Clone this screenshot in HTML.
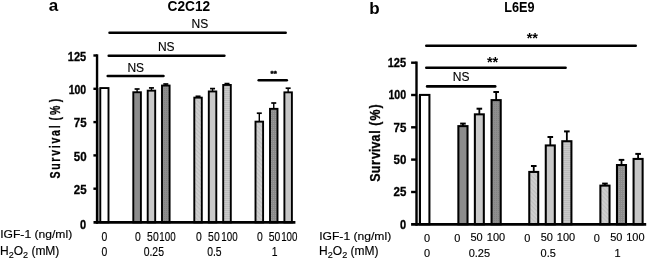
<!DOCTYPE html>
<html><head><meta charset="utf-8"><title>Survival C2C12 / L6E9</title>
<style>
html,body{margin:0;padding:0;background:#fff;}
svg{display:block;filter:blur(0.35px);}
text{font-family:"Liberation Sans",sans-serif;fill:#000;stroke:#000;stroke-width:0.15px;}
.b{font-weight:bold;stroke:#000;stroke-width:0.3px;}
.t{font-weight:bold;stroke-width:0;}
</style></head><body>
<svg width="648" height="259" viewBox="0 0 648 259">
<defs>
<pattern id="pd" width="2" height="2" patternUnits="userSpaceOnUse"><rect width="2" height="2" fill="#8e8e8e"/><rect width="1" height="1" fill="#828282"/></pattern>
<pattern id="ph" width="2" height="2" patternUnits="userSpaceOnUse"><rect width="2" height="2" fill="#cacaca"/><rect width="2" height="1" fill="#bcbcbc"/></pattern>
<pattern id="pl" width="2" height="2" patternUnits="userSpaceOnUse"><rect width="2" height="2" fill="#c8c8c8"/><rect width="1" height="1" fill="#bcbcbc"/></pattern>
<pattern id="pg" width="3" height="3" patternUnits="userSpaceOnUse" patternTransform="rotate(45)"><rect width="3" height="3" fill="#cfcfcf"/><rect width="3" height="1.2" fill="#c0c0c0"/></pattern>
<pattern id="pc" width="2" height="2" patternUnits="userSpaceOnUse"><rect width="2" height="2" fill="#9c9c9c"/><rect width="2" height="1" fill="#8b8b8b"/><rect width="1" height="2" fill="#8b8b8b"/></pattern>
</defs>
<rect width="648" height="259" fill="#fff"/>

<text x="48.7" y="10.5" font-size="17" class="t" text-anchor="start">a</text>
<text x="167.6" y="10.8" font-size="13.8" class="t" text-anchor="start" textLength="42.6" lengthAdjust="spacingAndGlyphs">C2C12</text>
<line x1="109.5" y1="32.65" x2="285.7" y2="32.65" stroke="#000" stroke-width="2.5" stroke-linecap="round"/>
<line x1="108.7" y1="55.7" x2="224.4" y2="55.7" stroke="#000" stroke-width="2.5" stroke-linecap="round"/>
<line x1="107.7" y1="76.1" x2="163.5" y2="76.1" stroke="#000" stroke-width="2.5" stroke-linecap="round"/>
<line x1="258.7" y1="80.3" x2="286.8" y2="80.3" stroke="#000" stroke-width="2.5" stroke-linecap="round"/>
<text x="199.9" y="28.4" font-size="12" text-anchor="middle">NS</text>
<text x="166.3" y="50.8" font-size="12" text-anchor="middle">NS</text>
<text x="135.8" y="72.4" font-size="12" text-anchor="middle">NS</text>
<text x="273.7" y="75.5" font-size="8" class="b" text-anchor="middle" style="stroke-width:0.45px">**</text>
<rect x="98.0" y="88" width="1.6" height="134" fill="#a8a8a8"/>
<rect x="100.30" y="88.05" width="8.20" height="134.35" fill="#fff" stroke="#000" stroke-width="1.9"/>
<line x1="137.1" y1="89.0" x2="137.1" y2="92.3" stroke="#000" stroke-width="1.4" stroke-linecap="butt"/>
<line x1="134.6" y1="89.0" x2="139.6" y2="89.0" stroke="#000" stroke-width="1.7" stroke-linecap="butt"/>
<rect x="133.30" y="92.25" width="7.60" height="130.15" fill="#8c8c8c" stroke="#000" stroke-width="1.9"/>
<line x1="151.45" y1="87.9" x2="151.45" y2="90.69999999999999" stroke="#000" stroke-width="1.4" stroke-linecap="butt"/>
<line x1="148.95" y1="87.9" x2="153.95" y2="87.9" stroke="#000" stroke-width="1.7" stroke-linecap="butt"/>
<rect x="147.70" y="90.65" width="7.50" height="131.75" fill="#c9c9c9" stroke="#000" stroke-width="1.9"/>
<line x1="165.8" y1="84.0" x2="165.8" y2="85.6" stroke="#000" stroke-width="1.4" stroke-linecap="butt"/>
<line x1="163.3" y1="84.0" x2="168.3" y2="84.0" stroke="#000" stroke-width="1.7" stroke-linecap="butt"/>
<rect x="162.00" y="85.55" width="7.60" height="136.85" fill="url(#pd)" stroke="#000" stroke-width="1.9"/>
<line x1="198.05" y1="96.3" x2="198.05" y2="97.69999999999999" stroke="#000" stroke-width="1.4" stroke-linecap="butt"/>
<line x1="195.55" y1="96.3" x2="200.55" y2="96.3" stroke="#000" stroke-width="1.7" stroke-linecap="butt"/>
<rect x="194.30" y="97.65" width="7.50" height="124.75" fill="url(#pg)" stroke="#000" stroke-width="1.9"/>
<line x1="212.55" y1="88.6" x2="212.55" y2="91.5" stroke="#000" stroke-width="1.4" stroke-linecap="butt"/>
<line x1="210.05" y1="88.6" x2="215.05" y2="88.6" stroke="#000" stroke-width="1.7" stroke-linecap="butt"/>
<rect x="208.80" y="91.45" width="7.50" height="130.95" fill="#c9c9c9" stroke="#000" stroke-width="1.9"/>
<line x1="227.0" y1="83.6" x2="227.0" y2="85.0" stroke="#000" stroke-width="1.4" stroke-linecap="butt"/>
<line x1="224.5" y1="83.6" x2="229.5" y2="83.6" stroke="#000" stroke-width="1.7" stroke-linecap="butt"/>
<rect x="223.20" y="84.95" width="7.60" height="137.45" fill="url(#ph)" stroke="#000" stroke-width="1.9"/>
<line x1="259.3" y1="113.2" x2="259.3" y2="121.69999999999999" stroke="#000" stroke-width="1.4" stroke-linecap="butt"/>
<line x1="256.8" y1="113.2" x2="261.8" y2="113.2" stroke="#000" stroke-width="1.7" stroke-linecap="butt"/>
<rect x="255.50" y="121.65" width="7.60" height="100.75" fill="url(#pg)" stroke="#000" stroke-width="1.9"/>
<line x1="273.75" y1="103.0" x2="273.75" y2="108.89999999999999" stroke="#000" stroke-width="1.4" stroke-linecap="butt"/>
<line x1="271.25" y1="103.0" x2="276.25" y2="103.0" stroke="#000" stroke-width="1.7" stroke-linecap="butt"/>
<rect x="270.00" y="108.85" width="7.50" height="113.55" fill="url(#pc)" stroke="#000" stroke-width="1.9"/>
<line x1="288.15" y1="88.2" x2="288.15" y2="92.39999999999999" stroke="#000" stroke-width="1.4" stroke-linecap="butt"/>
<line x1="285.65" y1="88.2" x2="290.65" y2="88.2" stroke="#000" stroke-width="1.7" stroke-linecap="butt"/>
<rect x="284.40" y="92.35" width="7.50" height="130.05" fill="#c6c6c6" stroke="#000" stroke-width="1.9"/>
<line x1="97.05" y1="54.3" x2="97.05" y2="223.8" stroke="#000" stroke-width="2.4" stroke-linecap="butt"/>
<line x1="93.5" y1="222.4" x2="295.4" y2="222.4" stroke="#000" stroke-width="2.6" stroke-linecap="butt"/>
<line x1="93.4" y1="55.5" x2="97" y2="55.5" stroke="#000" stroke-width="2.4" stroke-linecap="butt"/>
<line x1="93.4" y1="88.8" x2="97" y2="88.8" stroke="#000" stroke-width="2.4" stroke-linecap="butt"/>
<line x1="93.4" y1="122.1" x2="97" y2="122.1" stroke="#000" stroke-width="2.4" stroke-linecap="butt"/>
<line x1="93.4" y1="155.4" x2="97" y2="155.4" stroke="#000" stroke-width="2.4" stroke-linecap="butt"/>
<line x1="93.4" y1="188.7" x2="97" y2="188.7" stroke="#000" stroke-width="2.4" stroke-linecap="butt"/>
<text x="86.2" y="60.699999999999996" font-size="12" class="b" text-anchor="end" textLength="18.36" lengthAdjust="spacingAndGlyphs">125</text>
<text x="86.2" y="93.6" font-size="12" class="b" text-anchor="end" textLength="17.5" lengthAdjust="spacingAndGlyphs">100</text>
<text x="86.6" y="127.2" font-size="12" class="b" text-anchor="end" textLength="12.8" lengthAdjust="spacingAndGlyphs">75</text>
<text x="86.6" y="160.9" font-size="12" class="b" text-anchor="end" textLength="12.8" lengthAdjust="spacingAndGlyphs">50</text>
<text x="86.6" y="194.3" font-size="12" class="b" text-anchor="end" textLength="12.8" lengthAdjust="spacingAndGlyphs">25</text>
<text x="86.2" y="228.8" font-size="12" class="b" text-anchor="end" textLength="6.12" lengthAdjust="spacingAndGlyphs">0</text>
<text class="b" font-size="14" letter-spacing="2.35" transform="translate(60.0,178.6) rotate(-90) scale(0.75,1)" x="0" y="0" dx="0 0 0 0 0 0 0 0 0 -2.0 0.4 2.1">Survival (%)</text>
<text x="104.5" y="240.5" font-size="12" text-anchor="middle" textLength="5.78" lengthAdjust="spacingAndGlyphs">0</text>
<text x="137.9" y="240.5" font-size="12" text-anchor="middle" textLength="5.78" lengthAdjust="spacingAndGlyphs">0</text>
<text x="152.9" y="240.5" font-size="12" text-anchor="middle" textLength="11.57" lengthAdjust="spacingAndGlyphs">50</text>
<text x="167.45000000000002" y="240.5" font-size="12" text-anchor="middle" textLength="16.3" lengthAdjust="spacingAndGlyphs">100</text>
<text x="199.0" y="240.5" font-size="12" text-anchor="middle" textLength="5.78" lengthAdjust="spacingAndGlyphs">0</text>
<text x="213.9" y="240.5" font-size="12" text-anchor="middle" textLength="11.57" lengthAdjust="spacingAndGlyphs">50</text>
<text x="229.45000000000002" y="240.5" font-size="12" text-anchor="middle" textLength="16.3" lengthAdjust="spacingAndGlyphs">100</text>
<text x="259.8" y="240.5" font-size="12" text-anchor="middle" textLength="5.78" lengthAdjust="spacingAndGlyphs">0</text>
<text x="274.5" y="240.5" font-size="12" text-anchor="middle" textLength="11.57" lengthAdjust="spacingAndGlyphs">50</text>
<text x="289.35" y="240.5" font-size="12" text-anchor="middle" textLength="16.3" lengthAdjust="spacingAndGlyphs">100</text>
<text x="104.5" y="256.0" font-size="12" text-anchor="middle" textLength="5.78" lengthAdjust="spacingAndGlyphs">0</text>
<text x="153.8" y="256.0" font-size="12" text-anchor="middle" textLength="20.25" lengthAdjust="spacingAndGlyphs">0.25</text>
<text x="214.4" y="256.0" font-size="12" text-anchor="middle" textLength="14.46" lengthAdjust="spacingAndGlyphs">0.5</text>
<text x="274.6" y="256.0" font-size="12" text-anchor="middle" textLength="5.78" lengthAdjust="spacingAndGlyphs">1</text>
<text x="0.2" y="237.9" font-size="11.7" text-anchor="start" textLength="72" lengthAdjust="spacingAndGlyphs">IGF-1 (ng/ml)</text>
<text x="0" y="254.9" font-size="12">H<tspan font-size="9" dy="2.9">2</tspan><tspan dy="-2.9">O</tspan><tspan font-size="9" dy="2.9">2</tspan><tspan dy="-2.9"> (mM)</tspan></text>
<text x="369.3" y="13.8" font-size="17" class="t" text-anchor="start">b</text>
<text x="504.2" y="11.5" font-size="13.8" class="t" text-anchor="start" textLength="30.3" lengthAdjust="spacingAndGlyphs">L6E9</text>
<line x1="426.3" y1="45.8" x2="635.7" y2="45.8" stroke="#000" stroke-width="2.6" stroke-linecap="round"/>
<line x1="426.3" y1="67.8" x2="565.6" y2="67.8" stroke="#000" stroke-width="2.6" stroke-linecap="round"/>
<line x1="427.1" y1="86.4" x2="495.2" y2="86.4" stroke="#000" stroke-width="2.6" stroke-linecap="round"/>
<text x="532.3" y="42.8" font-size="14.5" class="t" text-anchor="middle">**</text>
<text x="492.6" y="67.2" font-size="14.5" class="t" text-anchor="middle">**</text>
<text x="461.1" y="81.2" font-size="12" text-anchor="middle">NS</text>
<rect x="417.4" y="95" width="1.6" height="129" fill="#dcdcdc"/>
<rect x="419.97" y="94.92" width="9.45" height="129.38" fill="#fff" stroke="#000" stroke-width="2.05"/>
<line x1="462.95" y1="123.6" x2="462.95" y2="126.1" stroke="#000" stroke-width="1.8" stroke-linecap="butt"/>
<line x1="460.15" y1="123.6" x2="465.75" y2="123.6" stroke="#000" stroke-width="2.0" stroke-linecap="butt"/>
<rect x="458.37" y="126.12" width="9.15" height="98.18" fill="#8c8c8c" stroke="#000" stroke-width="2.05"/>
<line x1="479.35" y1="108.7" x2="479.35" y2="114.3" stroke="#000" stroke-width="1.8" stroke-linecap="butt"/>
<line x1="476.55" y1="108.7" x2="482.15000000000003" y2="108.7" stroke="#000" stroke-width="2.0" stroke-linecap="butt"/>
<rect x="474.87" y="114.33" width="8.95" height="109.98" fill="#c9c9c9" stroke="#000" stroke-width="2.05"/>
<line x1="496.15" y1="92.0" x2="496.15" y2="100.1" stroke="#000" stroke-width="1.8" stroke-linecap="butt"/>
<line x1="493.34999999999997" y1="92.0" x2="498.95" y2="92.0" stroke="#000" stroke-width="2.0" stroke-linecap="butt"/>
<rect x="491.57" y="100.12" width="9.15" height="124.18" fill="url(#pd)" stroke="#000" stroke-width="2.05"/>
<line x1="533.75" y1="166.0" x2="533.75" y2="171.9" stroke="#000" stroke-width="1.8" stroke-linecap="butt"/>
<line x1="530.95" y1="166.0" x2="536.55" y2="166.0" stroke="#000" stroke-width="2.0" stroke-linecap="butt"/>
<rect x="529.27" y="171.93" width="8.95" height="52.38" fill="url(#pg)" stroke="#000" stroke-width="2.05"/>
<line x1="550.3" y1="137.0" x2="550.3" y2="145.4" stroke="#000" stroke-width="1.8" stroke-linecap="butt"/>
<line x1="547.5" y1="137.0" x2="553.0999999999999" y2="137.0" stroke="#000" stroke-width="2.0" stroke-linecap="butt"/>
<rect x="545.77" y="145.43" width="9.05" height="78.88" fill="#c9c9c9" stroke="#000" stroke-width="2.05"/>
<line x1="566.85" y1="131.4" x2="566.85" y2="141.2" stroke="#000" stroke-width="1.8" stroke-linecap="butt"/>
<line x1="564.0500000000001" y1="131.4" x2="569.65" y2="131.4" stroke="#000" stroke-width="2.0" stroke-linecap="butt"/>
<rect x="562.27" y="141.22" width="9.15" height="83.08" fill="url(#ph)" stroke="#000" stroke-width="2.05"/>
<line x1="604.95" y1="183.6" x2="604.95" y2="185.6" stroke="#000" stroke-width="1.8" stroke-linecap="butt"/>
<line x1="602.1500000000001" y1="183.6" x2="607.75" y2="183.6" stroke="#000" stroke-width="2.0" stroke-linecap="butt"/>
<rect x="600.38" y="185.62" width="9.15" height="38.68" fill="url(#pg)" stroke="#000" stroke-width="2.05"/>
<line x1="621.5" y1="159.9" x2="621.5" y2="165.0" stroke="#000" stroke-width="1.8" stroke-linecap="butt"/>
<line x1="618.7" y1="159.9" x2="624.3" y2="159.9" stroke="#000" stroke-width="2.0" stroke-linecap="butt"/>
<rect x="616.97" y="165.03" width="9.05" height="59.28" fill="url(#pc)" stroke="#000" stroke-width="2.05"/>
<line x1="638.0999999999999" y1="153.9" x2="638.0999999999999" y2="158.9" stroke="#000" stroke-width="1.8" stroke-linecap="butt"/>
<line x1="635.3" y1="153.9" x2="640.8999999999999" y2="153.9" stroke="#000" stroke-width="2.0" stroke-linecap="butt"/>
<rect x="633.57" y="158.93" width="9.05" height="65.38" fill="#c6c6c6" stroke="#000" stroke-width="2.05"/>
<line x1="416.5" y1="61.5" x2="416.5" y2="225.7" stroke="#000" stroke-width="2.4" stroke-linecap="butt"/>
<line x1="411.1" y1="224.3" x2="646.2" y2="224.3" stroke="#000" stroke-width="2.7" stroke-linecap="butt"/>
<line x1="411.1" y1="62.7" x2="416.5" y2="62.7" stroke="#000" stroke-width="2.4" stroke-linecap="butt"/>
<line x1="411.1" y1="95.0" x2="416.5" y2="95.0" stroke="#000" stroke-width="2.4" stroke-linecap="butt"/>
<line x1="411.1" y1="127.3" x2="416.5" y2="127.3" stroke="#000" stroke-width="2.4" stroke-linecap="butt"/>
<line x1="411.1" y1="159.6" x2="416.5" y2="159.6" stroke="#000" stroke-width="2.4" stroke-linecap="butt"/>
<line x1="411.1" y1="192.0" x2="416.5" y2="192.0" stroke="#000" stroke-width="2.4" stroke-linecap="butt"/>
<text x="406.1" y="67.0" font-size="12" class="b" text-anchor="end" textLength="18.36" lengthAdjust="spacingAndGlyphs">125</text>
<text x="406.1" y="99.3" font-size="12" class="b" text-anchor="end" textLength="17.7" lengthAdjust="spacingAndGlyphs">100</text>
<text x="406.4" y="131.70000000000002" font-size="12" class="b" text-anchor="end" textLength="12.8" lengthAdjust="spacingAndGlyphs">75</text>
<text x="406.4" y="163.8" font-size="12" class="b" text-anchor="end" textLength="12.8" lengthAdjust="spacingAndGlyphs">50</text>
<text x="406.4" y="196.20000000000002" font-size="12" class="b" text-anchor="end" textLength="12.8" lengthAdjust="spacingAndGlyphs">25</text>
<text x="406.1" y="228.8" font-size="12" class="b" text-anchor="end" textLength="6.12" lengthAdjust="spacingAndGlyphs">0</text>
<text class="b" font-size="14.4" transform="translate(380.4,181.8) rotate(-90) scale(0.862,1)" x="-0.07 9.78 19.47 26.51 34.61 38.57 46.68 55.84 61.25 64.94 71.22 85.02" y="0">Survival (%)</text>
<text x="427.0" y="241.7" font-size="11.8" text-anchor="middle" textLength="6.11" lengthAdjust="spacingAndGlyphs">0</text>
<text x="457.3" y="242.1" font-size="11.8" text-anchor="middle" textLength="6.11" lengthAdjust="spacingAndGlyphs">0</text>
<text x="476.6" y="240.7" font-size="11.8" text-anchor="middle" textLength="12.23" lengthAdjust="spacingAndGlyphs">50</text>
<text x="496.0" y="240.7" font-size="11.8" text-anchor="middle" textLength="18.34" lengthAdjust="spacingAndGlyphs">100</text>
<text x="527.4" y="242.1" font-size="11.8" text-anchor="middle" textLength="6.11" lengthAdjust="spacingAndGlyphs">0</text>
<text x="546.8" y="240.7" font-size="11.8" text-anchor="middle" textLength="12.23" lengthAdjust="spacingAndGlyphs">50</text>
<text x="566.0" y="240.7" font-size="11.8" text-anchor="middle" textLength="18.34" lengthAdjust="spacingAndGlyphs">100</text>
<text x="596.8" y="242.1" font-size="11.8" text-anchor="middle" textLength="6.11" lengthAdjust="spacingAndGlyphs">0</text>
<text x="616.3" y="240.7" font-size="11.8" text-anchor="middle" textLength="12.23" lengthAdjust="spacingAndGlyphs">50</text>
<text x="635.4" y="240.7" font-size="11.8" text-anchor="middle" textLength="18.34" lengthAdjust="spacingAndGlyphs">100</text>
<text x="427.0" y="256.9" font-size="11.8" text-anchor="middle" textLength="6.11" lengthAdjust="spacingAndGlyphs">0</text>
<text x="479.4" y="256.9" font-size="11.8" text-anchor="middle" textLength="21.4" lengthAdjust="spacingAndGlyphs">0.25</text>
<text x="548.2" y="256.9" font-size="11.8" text-anchor="middle" textLength="15.29" lengthAdjust="spacingAndGlyphs">0.5</text>
<text x="617.6" y="256.9" font-size="11.8" text-anchor="middle" textLength="6.11" lengthAdjust="spacingAndGlyphs">1</text>
<text x="319.2" y="239.6" font-size="11.7" text-anchor="start" textLength="72" lengthAdjust="spacingAndGlyphs">IGF-1 (ng/ml)</text>
<text x="319.1" y="255.1" font-size="12">H<tspan font-size="9" dy="2.9">2</tspan><tspan dy="-2.9">O</tspan><tspan font-size="9" dy="2.9">2</tspan><tspan dy="-2.9"> (mM)</tspan></text>
</svg></body></html>
